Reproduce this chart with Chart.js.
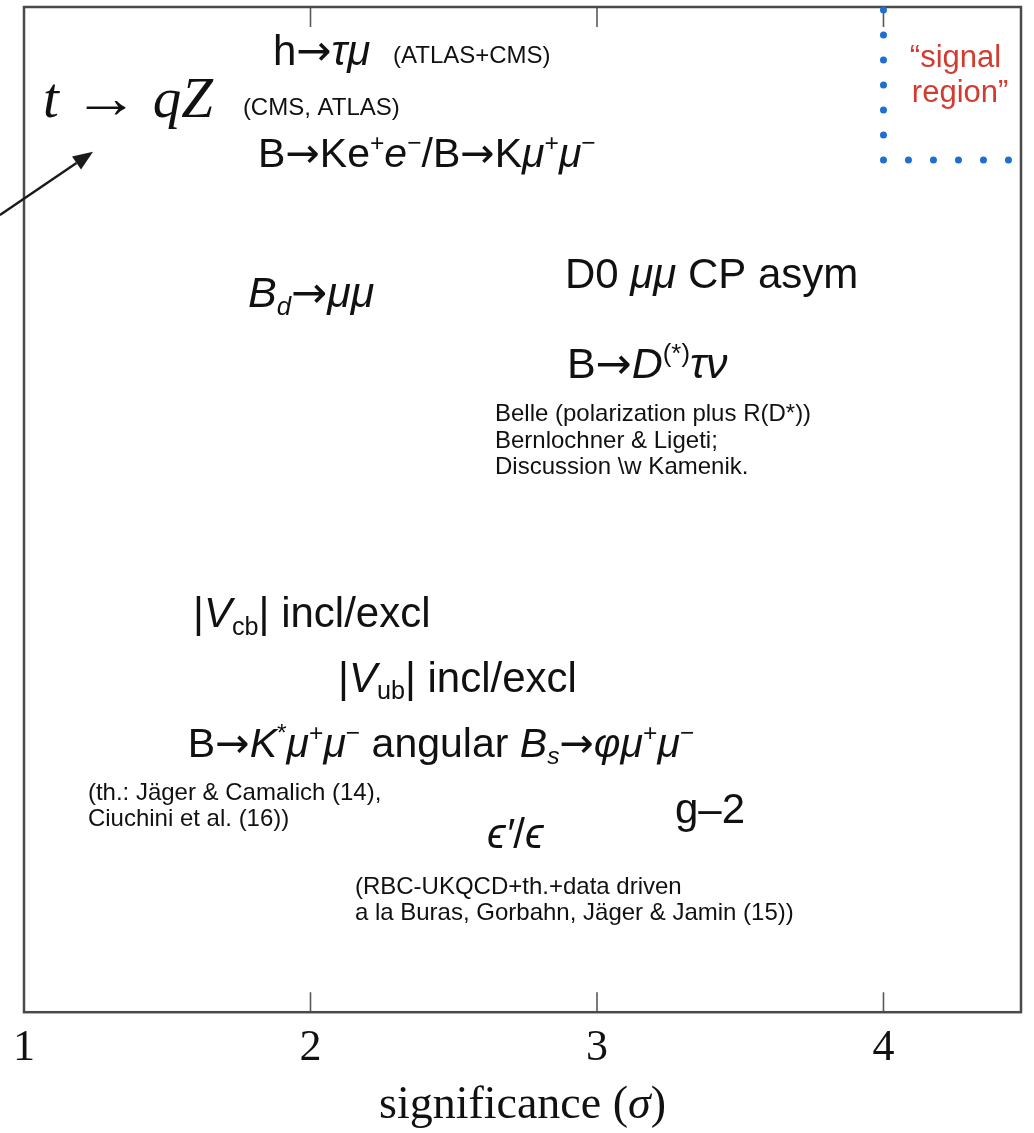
<!DOCTYPE html>
<html>
<head>
<meta charset="utf-8">
<script src="https://cdn.jsdelivr.net/npm/chart.js@4.4.1/dist/chart.umd.min.js"></script>
<style>
  html, body { margin: 0; padding: 0; background: #ffffff; }
  canvas { display: block; }
</style>
</head>
<body>
<canvas id="chart" width="1034" height="1133"></canvas>
<script>
// ---- data -------------------------------------------------------------
const tickValues = [1, 2, 3, 4];
const axisTitle = 'significance ($σ$)';

// Each anomaly: markup text ($..$ = italic, ^{..} sup, _{..} sub),
// its significance and a vertical slot (0 = bottom, 100 = top).
const labelText = [
  'h→$τμ$',
  '(ATLAS+CMS)',
  '$t$ → $qZ$',
  '(CMS, ATLAS)',
  'B→Ke^{+}$e$^{−}/B→K$μ$^{+}$μ$^{−}',
  '$B$_{$d$}→$μμ$',
  'D0 $μμ$ CP asym',
  'B→$D$^{(*)}$τν$',
  'Belle (polarization plus R(D*))',
  'Bernlochner & Ligeti;',
  'Discussion \\w Kamenik.',
  '|$V$_{cb}| incl/excl',
  '|$V$_{ub}| incl/excl',
  'B→$K$^{*}$μ$^{+}$μ$^{−} angular $B$_{$s$}→$φμ$^{+}$μ$^{−}',
  '(th.: Jäger & Camalich (14),',
  'Ciuchini et al. (16))',
  '$ϵ′$/$ϵ$',
  'g–2',
  '(RBC-UKQCD+th.+data driven',
  'a la Buras, Gorbahn, Jäger & Jamin (15))',
  '“signal',
  'region”'
];
const labelSigma = [
  1.869, 2.288, 1.066, 1.764, 1.817, 1.782, 2.888, 2.895,
  2.644, 2.644, 2.644, 1.590, 2.096, 1.572, 1.223, 1.223,
  2.616, 3.272, 2.155, 2.155, 4.092, 4.099
];
const labelLevel = [
  94.2, 94.4, 89.05, 89.25, 84.1, 70.15, 72.0, 63.1,
  58.8, 56.1, 53.5, 38.3, 31.9, 25.4, 21.1, 18.5,
  16.3, 18.8, 11.8, 9.15, 94.0, 90.55
];

// dotted boundary of the "signal region"
const signalSigma = [4, 4, 4.445];
const signalLevel = [99.7, 84.775, 84.775];

// pointer arrow towards t -> qZ
const pointerSigma = [0.916, 1.241];
const pointerLevel = [79.3, 85.6];

// ---- styles -----------------------------------------------------------
const SANS = '"Liberation Sans", "DejaVu Sans", Arial, sans-serif';
const SERIF = '"Liberation Serif", "DejaVu Serif", "Times New Roman", serif';
const ARROW_SANS = '"DejaVu Sans", "Liberation Sans", sans-serif';
const labelFamily = labelText.map((t, i) => i === 2 ? SERIF : SANS);
const labelPx = [42, 24, 57, 24, 41, 43, 42, 43, 24, 24, 24, 42, 42, 41, 24, 24, 42, 42, 24, 24, 31, 31];
const labelColor = labelText.map((t, i) => i >= 20 ? '#d23b2f' : '#111111');

// ---- rich text --------------------------------------------------------
function parseRuns(markup) {
  const out = [];
  let italic = false, pos = 'base';
  for (let i = 0; i < markup.length; i++) {
    const ch = markup[i];
    if (ch === '$') { italic = !italic; continue; }
    if ((ch === '^' || ch === '_') && markup[i + 1] === '{') { pos = ch === '^' ? 'sup' : 'sub'; i++; continue; }
    if (ch === '}' && pos !== 'base') { pos = 'base'; continue; }
    const arrow = ch === '→';
    const last = out[out.length - 1];
    if (!arrow && last && !last.arrow && last.italic === italic && last.pos === pos) last.text += ch;
    else out.push({ text: ch, italic, pos, arrow });
  }
  return out;
}

function drawRich(ctx, markup, x, y, size, family, color, align) {
  const runs = parseRuns(markup);
  const serif = family === SERIF;
  const arrowEm = serif ? 1.15 : 0.84;
  const fontOf = r => {
    const fam = r.arrow && !serif ? ARROW_SANS : family;
    return (r.italic ? 'italic ' : '') + (r.pos === 'base' ? size : size * 0.6) + 'px ' + fam;
  };
  const widths = runs.map(r => {
    ctx.font = fontOf(r);
    const w = ctx.measureText(r.text).width;
    r.sx = r.arrow ? (arrowEm * size) / w : 1;
    return w * r.sx;
  });
  const total = widths.reduce((s, w) => s + w, 0);
  let cx = align === 'center' ? x - total / 2 : x;
  ctx.fillStyle = color;
  ctx.textBaseline = 'alphabetic';
  ctx.textAlign = 'left';
  runs.forEach((r, k) => {
    ctx.font = fontOf(r);
    const dy = r.pos === 'sup' ? -0.38 * size : r.pos === 'sub' ? 0.18 * size : 0;
    ctx.save();
    ctx.translate(cx, y + dy);
    ctx.scale(r.sx, 1);
    ctx.fillText(r.text, 0, 0);
    ctx.restore();
    cx += widths[k];
  });
}

// ---- frame, inward ticks, labels ---------------------------------------
const annotations = {
  id: 'annotations',
  beforeDatasetsDraw(chart) {
    const { ctx, chartArea: a, scales: { x } } = chart;
    ctx.save();
    ctx.strokeStyle = '#5a5a5a';
    ctx.lineWidth = 1.6;
    tickValues.forEach(v => {
      if (v <= x.min) return;
      const px = x.getPixelForValue(v);
      ctx.beginPath();
      ctx.moveTo(px, a.bottom); ctx.lineTo(px, a.bottom - 20);
      ctx.moveTo(px, a.top); ctx.lineTo(px, a.top + 20);
      ctx.stroke();
    });
    ctx.strokeStyle = '#4a4a4a';
    ctx.lineWidth = 2.5;
    ctx.strokeRect(a.left, a.top, a.right - a.left, a.bottom - a.top);
    ctx.restore();
  },
  afterDatasetsDraw(chart) {
    const { ctx, chartArea: a, scales: { x, y } } = chart;
    ctx.save();
    labelText.forEach((t, i) => {
      drawRich(ctx, t, x.getPixelForValue(labelSigma[i]), y.getPixelForValue(labelLevel[i]),
        labelPx[i], labelFamily[i], labelColor[i], 'left');
    });

    // pointer arrow
    const x0 = x.getPixelForValue(pointerSigma[0]), y0 = y.getPixelForValue(pointerLevel[0]);
    const x1 = x.getPixelForValue(pointerSigma[1]), y1 = y.getPixelForValue(pointerLevel[1]);
    const ang = Math.atan2(y1 - y0, x1 - x0);
    const hl = 20, hw = 8;
    const bx = x1 - hl * Math.cos(ang), by = y1 - hl * Math.sin(ang);
    ctx.strokeStyle = '#1a1a1a';
    ctx.fillStyle = '#1a1a1a';
    ctx.lineWidth = 2.4;
    ctx.beginPath(); ctx.moveTo(x0, y0); ctx.lineTo(bx, by); ctx.stroke();
    ctx.beginPath();
    ctx.moveTo(x1, y1);
    ctx.lineTo(bx + hw * Math.sin(ang), by - hw * Math.cos(ang));
    ctx.lineTo(bx - hw * Math.sin(ang), by + hw * Math.cos(ang));
    ctx.closePath(); ctx.fill();

    // axis title
    drawRich(ctx, axisTitle, (a.left + a.right) / 2, a.bottom + 106, 46, SERIF, '#111111', 'center');
    ctx.restore();
  }
};

new Chart(document.getElementById('chart'), {
  type: 'scatter',
  data: {
    datasets: [
      {
        label: 'signal region',
        data: signalSigma.map((s, i) => ({ x: s, y: signalLevel[i] })),
        showLine: true,
        borderColor: '#1f6fd1',
        borderWidth: 7,
        borderDash: [0, 25],
        borderCapStyle: 'round',
        pointRadius: 0,
        fill: false,
        clip: false
      },
      {
        label: 'anomalies',
        data: labelSigma.map((s, i) => ({ x: s, y: labelLevel[i] })),
        pointRadius: 0,
        pointHoverRadius: 0
      }
    ]
  },
  options: {
    responsive: false,
    animation: false,
    events: [],
    layout: { padding: { left: 24, right: 13, top: 7, bottom: 48 } },
    plugins: { legend: { display: false }, tooltip: { enabled: false } },
    scales: {
      x: {
        type: 'linear',
        min: 1,
        max: 4.48,
        afterBuildTicks: scale => { scale.ticks = tickValues.map(v => ({ value: v })); },
        ticks: {
          font: { family: SERIF, size: 44 },
          color: '#111111',
          padding: 10,
          maxRotation: 0,
          autoSkip: false
        },
        grid: { display: false, drawTicks: false },
        border: { display: false }
      },
      y: { display: false, min: 0, max: 100 }
    }
  },
  plugins: [annotations]
});
</script>
</body>
</html>
